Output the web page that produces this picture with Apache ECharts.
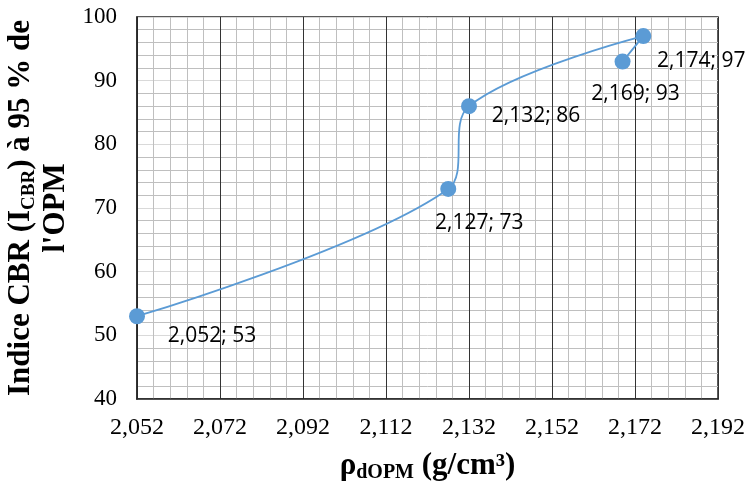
<!DOCTYPE html>
<html>
<head>
<meta charset="utf-8">
<script src="https://cdn.jsdelivr.net/npm/echarts@6/dist/echarts.min.js"></script>
<style>
html,body{margin:0;padding:0;background:#fff;}
#chart{width:749px;height:485px;}
</style>
</head>
<body>
<div id="chart"></div>
<script>
// ---- data ----
const densities = [2.052, 2.127, 2.132, 2.174, 2.169];   // ρdOPM (g/cm³)
const cbrValues = [53, 73, 86, 97, 93];                   // Indice CBR
const xTickStart = 2.052;   // first x tick label
const xTickStep = 0.02;
const xTickEnd = 2.192;
const yMin = 40, yMax = 100, yStep = 10;

// ---- build ----
// x axis works in thousandths offset from the first tick so that min is a multiple of interval
const toAxis = v => Math.round((v - xTickStart) * 1000 * 1000) / 1000;
const fromAxis = a => (xTickStart + a / 1000);
const fmt3 = v => v.toFixed(3).replace('.', ',');

const labelOffsets = [[75, 20], [31, 34], [67, 10], [58, 25], [13, 32]];

const seriesData = densities.map((d, i) => ({
  value: [toAxis(d), cbrValues[i]],
  label: { offset: labelOffsets[i] }
}));

const chart = echarts.init(document.getElementById('chart'), null, { renderer: 'canvas' });
chart.setOption({
  animation: false,
  backgroundColor: '#ffffff',
  grid: { left: 137, right: 31, top: 17, bottom: 86, containLabel: false, outerBoundsMode: 'none',
          show: true, borderColor: '#262626', borderWidth: 1.5 },
  xAxis: {
    type: 'value',
    min: 0,
    max: toAxis(xTickEnd),
    interval: xTickStep * 1000,
    axisLine: { show: true, lineStyle: { color: '#262626', width: 1.5 } },
    axisTick: { show: false },
    axisLabel: {
      margin: 17,
      fontFamily: 'Liberation Serif',
      fontSize: 24,
      color: '#000',
      formatter: v => fmt3(fromAxis(v))
    },
    splitLine: { show: true, lineStyle: { color: '#333333', width: 1 } },
    minorTick: { show: false, splitNumber: 5 },
    minorSplitLine: { show: true, lineStyle: { color: '#bfbfbf', width: 1 } },
    name: '{a|ρ}{s|dOPM}{a| (g/cm³)}',
    nameLocation: 'middle',
    nameGap: 50,
    nameTextStyle: {
      rich: {
        a: { fontFamily: 'Liberation Serif', fontWeight: 'bold', fontSize: 31, color: '#000', lineHeight: 34 },
        s: { fontFamily: 'Liberation Serif', fontWeight: 'bold', fontSize: 20, color: '#000', lineHeight: 16, verticalAlign: 'bottom' }
      }
    }
  },
  yAxis: {
    type: 'value',
    min: yMin,
    max: yMax,
    interval: yStep,
    axisLine: { show: true, lineStyle: { color: '#262626', width: 1.5 } },
    axisTick: { show: false },
    axisLabel: {
      margin: 20,
      fontFamily: 'Liberation Serif',
      fontSize: 23,
      color: '#000'
    },
    splitLine: { show: true, lineStyle: { color: '#d9d9d9', width: 1 } },
    minorTick: { show: false, splitNumber: 5 },
    minorSplitLine: { show: true, lineStyle: { color: '#bfbfbf', width: 1 } },
    name: "{a|Indice CBR (I}{s|CBR}{a|) à 95 % de}\n{a|l'OPM}",
    nameLocation: 'middle',
    nameGap: 60,
    nameRotate: 90,
    nameTextStyle: {
      rich: {
        a: { fontFamily: 'Liberation Serif', fontWeight: 'bold', fontSize: 31, color: '#000', lineHeight: 35 },
        s: { fontFamily: 'Liberation Serif', fontWeight: 'bold', fontSize: 19, color: '#000', lineHeight: 16, verticalAlign: 'bottom' }
      }
    }
  },
  series: [{
    type: 'line',
    data: seriesData,
    smooth: 0.35,
    symbol: 'circle',
    symbolSize: 16,
    itemStyle: { color: '#5b9bd5' },
    lineStyle: { color: '#5b9bd5', width: 1.8 },
    label: {
      show: true,
      position: 'inside',
      fontFamily: 'Open Sans',
      fontSize: 21,
      color: '#000',
      formatter: p => fmt3(densities[p.dataIndex]) + '; ' + cbrValues[p.dataIndex]
    }
  }]
});
</script>
</body>
</html>
